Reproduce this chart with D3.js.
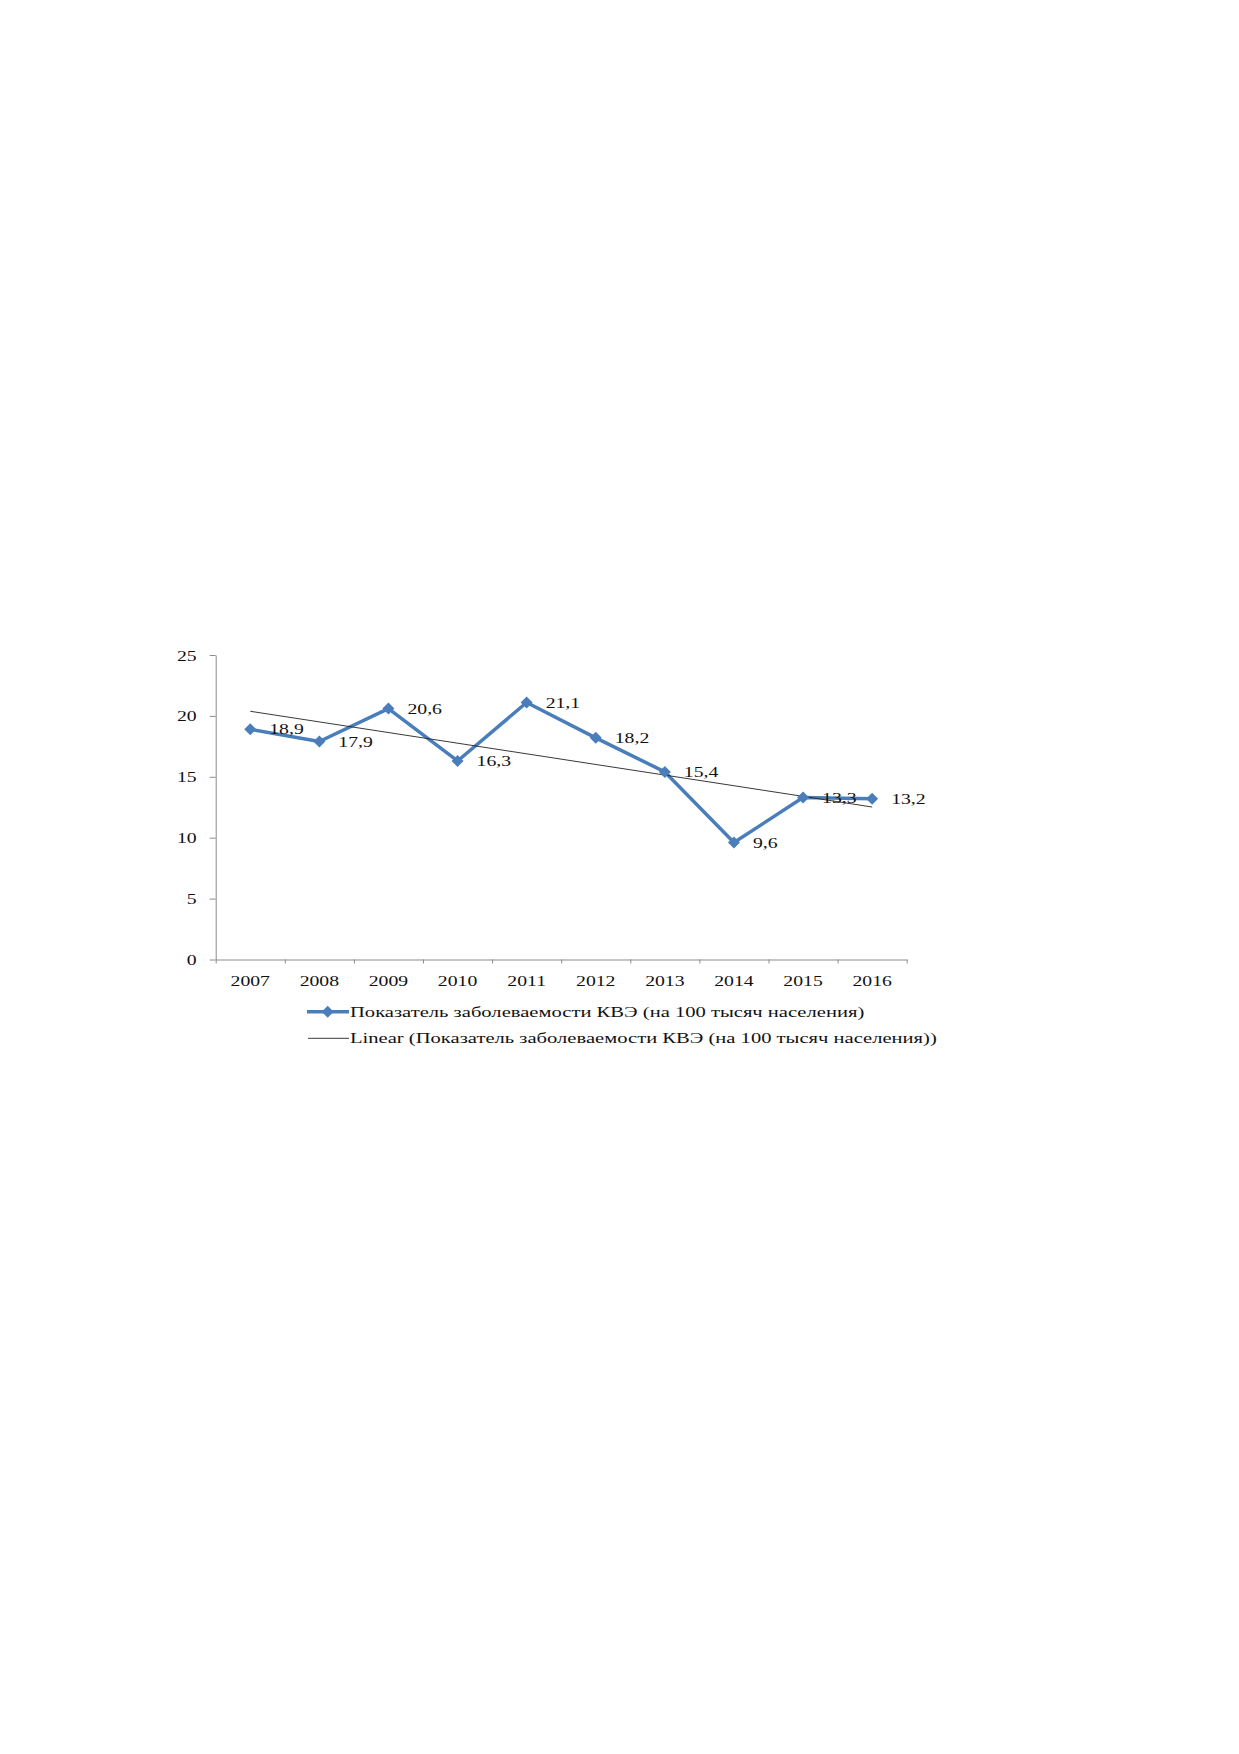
<!DOCTYPE html>
<html>
<head>
<meta charset="utf-8">
<script src="https://cdn.jsdelivr.net/npm/d3@7"></script>
<style>
  body { margin: 0; background: #fff; }
  text { font-family: "Liberation Serif", "Times New Roman", serif; fill: #111; }
</style>
</head>
<body>
<div id="chart"></div>
<script>
// data
var years = ["2007", "2008", "2009", "2010", "2011", "2012", "2013", "2014", "2015", "2016"];
var values = [18.9, 17.9, 20.6, 16.3, 21.1, 18.2, 15.4, 9.6, 13.3, 13.2];
var yTicks = [0, 5, 10, 15, 20, 25];
var seriesName = "Показатель заболеваемости КВЭ (на 100 тысяч населения)";
var trendName = "Linear (Показатель заболеваемости КВЭ (на 100 тысяч населения))";

var W = 1239, H = 1754;
var plot = {left: 215.7, right: 906.7, top: 655, bottom: 959.5};
var stretch = 1.36; // text in the picture is wide
var legStretch = 1.42;
var blue = "#4a7ebb";

var svg = d3.select("#chart")
  .append("svg")
    .attr("width", W)
    .attr("height", H);

var x = d3.scaleBand().domain(years).range([plot.left, plot.right]);
var xi = d3.scaleLinear().domain([0, years.length]).range([plot.left, plot.right]);
var y = d3.scaleLinear().domain([0, 25]).range([plot.bottom, plot.top]);

// y axis
var gy = svg.append("g")
    .attr("transform", "translate(" + plot.left + ",0)")
    .call(d3.axisLeft(y).tickValues(yTicks).tickSize(6).tickSizeOuter(0));
gy.selectAll("path, line").attr("stroke", "#8c8c8c");
gy.selectAll("text")
    .attr("x", 0).attr("dy", "0.35em")
    .attr("transform", "translate(-19,0) scale(" + stretch + ",1)")
    .style("font-size", "14.5px");

// x axis: ticks at category boundaries
var gx = svg.append("g")
    .attr("transform", "translate(0," + plot.bottom + ")")
    .call(d3.axisBottom(xi).ticks(years.length).tickSize(4).tickSizeOuter(0).tickFormat(""));
gx.selectAll("path, line").attr("stroke", "#8c8c8c");

// year labels
svg.append("g").selectAll("text")
  .data(years)
  .enter()
  .append("text")
    .attr("text-anchor", "middle")
    .attr("transform", function(d) {
      return "translate(" + (x(d) + x.bandwidth() / 2) + "," + (plot.bottom + 26) + ") scale(" + stretch + ",1)";
    })
    .style("font-size", "14.5px")
    .text(function(d) { return d; });

// linear trend (least squares)
var n = values.length;
var mx = (n + 1) / 2, my = d3.mean(values);
var sxy = d3.sum(values, function(v, i) { return (i + 1 - mx) * (v - my); });
var sxx = d3.sum(values, function(v, i) { return (i + 1 - mx) * (i + 1 - mx); });
var slope = sxy / sxx, icpt = my - slope * mx;
var trend = years.map(function(d, i) { return { year: d, v: icpt + slope * (i + 1) }; });

var cx = function(d) { return x(d) + x.bandwidth() / 2; };

// series line
var pts = years.map(function(d, i) { return { year: d, v: values[i] }; });
svg.append("path")
    .datum(pts)
    .attr("fill", "none")
    .attr("stroke", blue)
    .attr("stroke-width", 3.5)
    .attr("stroke-linejoin", "round")
    .attr("d", d3.line().x(function(d) { return cx(d.year); }).y(function(d) { return y(d.v); }));

// trend line over the series
svg.append("path")
    .datum([trend[0], trend[n - 1]])
    .attr("fill", "none")
    .attr("stroke", "#222")
    .attr("stroke-width", 0.9)
    .attr("d", d3.line().x(function(d) { return cx(d.year); }).y(function(d) { return y(d.v); }));

// markers (square turned 45deg)
var diamond = d3.symbol().type(d3.symbolSquare).size(72);
svg.append("g").selectAll("path")
  .data(pts)
  .enter()
  .append("path")
    .attr("d", diamond)
    .attr("fill", blue)
    .attr("transform", function(d) { return "translate(" + cx(d.year) + "," + y(d.v) + ") rotate(45)"; });

// data labels
svg.append("g").selectAll("text")
  .data(pts)
  .enter()
  .append("text")
    .attr("dy", "0.35em")
    .attr("transform", function(d) {
      return "translate(" + (cx(d.year) + 19) + "," + y(d.v) + ") scale(" + stretch + ",1)";
    })
    .style("font-size", "14.5px")
    .text(function(d) { return String(d.v).replace(".", ","); });

// legend
var lg = svg.append("g");
lg.append("line")
    .attr("x1", 307).attr("x2", 349).attr("y1", 1011.7).attr("y2", 1011.7)
    .attr("stroke", blue).attr("stroke-width", 3.5);
lg.append("path")
    .attr("d", diamond)
    .attr("fill", blue)
    .attr("transform", "translate(327.7,1011.7) rotate(45)");
lg.append("text")
    .attr("dy", "0.35em")
    .attr("transform", "translate(350,1011.7) scale(" + legStretch + ",1)")
    .style("font-size", "14.5px")
    .text(seriesName);
lg.append("line")
    .attr("x1", 308).attr("x2", 349).attr("y1", 1038.3).attr("y2", 1038.3)
    .attr("stroke", "#222").attr("stroke-width", 0.9);
lg.append("text")
    .attr("dy", "0.35em")
    .attr("transform", "translate(350,1038.3) scale(" + legStretch + ",1)")
    .style("font-size", "14.5px")
    .text(trendName);
</script>
</body>
</html>
